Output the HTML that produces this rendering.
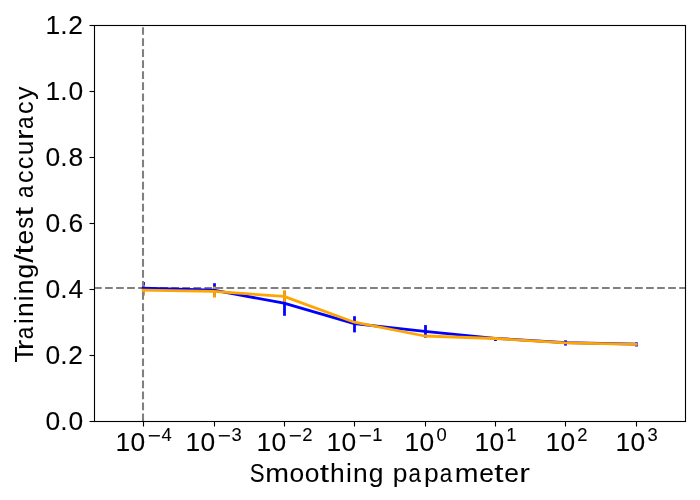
<!DOCTYPE html>
<html lang="en"><head><meta charset="utf-8"><title>Training/test accuracy vs smoothing parameter</title>
<style>html,body{margin:0;padding:0;background:#fff;overflow:hidden}svg{display:block;will-change:transform}text{font-family:"Liberation Sans",sans-serif;fill:#000}</style>
</head><body>
<svg width="700" height="500" viewBox="0 0 700 500">
<rect x="0" y="0" width="700" height="500" fill="#ffffff"/>
<g id="errorbars" fill="none" stroke-width="2.78" stroke-linecap="butt">
<g stroke="#0000ff"><line x1="143.5" y1="282.0" x2="143.5" y2="295.0"/><line x1="214.5" y1="283.2" x2="214.5" y2="296.8"/><line x1="284.5" y1="291.2" x2="284.5" y2="315.8"/><line x1="354.5" y1="316.2" x2="354.5" y2="332.4"/><line x1="425.5" y1="325.1" x2="425.5" y2="337.7"/><line x1="495.5" y1="337.4" x2="495.5" y2="341.0"/><line x1="565.5" y1="340.3" x2="565.5" y2="345.6"/><line x1="636.5" y1="342.4" x2="636.5" y2="346.5"/></g>
<g stroke="#ffa500"><line x1="143.5" y1="285.2" x2="143.5" y2="295.6"/><line x1="214.5" y1="286.6" x2="214.5" y2="297.6"/><line x1="284.5" y1="290.2" x2="284.5" y2="302.3"/><line x1="354.5" y1="321.2" x2="354.5" y2="323.2"/><line x1="425.5" y1="335.0" x2="425.5" y2="337.0"/><line x1="495.5" y1="337.5" x2="495.5" y2="339.5"/><line x1="565.5" y1="342.0" x2="565.5" y2="344.0"/><line x1="636.5" y1="343.3" x2="636.5" y2="345.3"/></g>
</g>
<g id="reflines" fill="none" stroke="#808080" stroke-width="2.08" stroke-dasharray="7.708 3.333">
<line x1="143" y1="421.3" x2="143" y2="25.3"/>
<line x1="94.02" y1="288" x2="685.02" y2="288"/>
</g>
<g id="series" fill="none" stroke-width="2.78" stroke-linecap="square" stroke-linejoin="round">
<polyline stroke="#0000ff" points="143.20,288.20 213.57,290.20 283.95,303.20 354.32,323.70 424.70,331.30 495.07,338.30 565.44,342.60 635.82,344.00"/>
<polyline stroke="#ffa500" points="143.20,290.20 213.57,291.40 283.95,296.40 354.32,322.20 424.70,336.00 495.07,338.50 565.44,342.90 635.82,344.30"/>
</g>
<g id="axes" fill="none" stroke="#000000" stroke-width="1.11">
<rect x="94.5" y="25.5" width="591" height="396"/>
<line x1="143.5" y1="421.5" x2="143.5" y2="426.5"/><line x1="214.5" y1="421.5" x2="214.5" y2="426.5"/><line x1="284.5" y1="421.5" x2="284.5" y2="426.5"/><line x1="354.5" y1="421.5" x2="354.5" y2="426.5"/><line x1="425.5" y1="421.5" x2="425.5" y2="426.5"/><line x1="495.5" y1="421.5" x2="495.5" y2="426.5"/><line x1="565.5" y1="421.5" x2="565.5" y2="426.5"/><line x1="636.5" y1="421.5" x2="636.5" y2="426.5"/>
<line x1="89.5" y1="25.5" x2="94.5" y2="25.5"/><line x1="89.5" y1="91.5" x2="94.5" y2="91.5"/><line x1="89.5" y1="157.5" x2="94.5" y2="157.5"/><line x1="89.5" y1="223.5" x2="94.5" y2="223.5"/><line x1="89.5" y1="289.5" x2="94.5" y2="289.5"/><line x1="89.5" y1="355.5" x2="94.5" y2="355.5"/><line x1="89.5" y1="421.5" x2="94.5" y2="421.5"/>
</g>
<defs><filter id="gs" x="0" y="0" width="700" height="500" filterUnits="userSpaceOnUse"><feOffset dx="0" dy="0"/></filter></defs>
<g id="labels" filter="url(#gs)">
<g id="yticklabels" font-size="26.40" stroke="#000" stroke-width="0.1">
<text x="45.49 60.14 68.22" y="34.00">1.2</text>
<text x="45.49 60.14 68.47" y="100.00">1.0</text>
<text x="45.59 60.14 68.54" y="166.00">0.8</text>
<text x="45.59 60.14 68.50" y="232.00">0.6</text>
<text x="45.59 60.14 68.52" y="298.00">0.4</text>
<text x="45.59 60.14 68.22" y="364.00">0.2</text>
<text x="45.59 60.14 68.47" y="430.00">0.0</text>
</g>
<g id="xticklabels" font-size="26.40" stroke="#000" stroke-width="0.08">
<text><tspan x="115.49 130.59" y="451.00">10</tspan><tspan x="147.77" y="441.80" font-size="18.40" textLength="13.16" lengthAdjust="spacingAndGlyphs">−</tspan><tspan x="161.43" y="441.20" font-size="18.40">4</tspan></text>
<text><tspan x="185.49 200.59" y="451.00">10</tspan><tspan x="217.77" y="441.80" font-size="18.40" textLength="13.16" lengthAdjust="spacingAndGlyphs">−</tspan><tspan x="231.48" y="441.20" font-size="18.40">3</tspan></text>
<text><tspan x="256.49 271.59" y="451.00">10</tspan><tspan x="288.77" y="441.80" font-size="18.40" textLength="13.16" lengthAdjust="spacingAndGlyphs">−</tspan><tspan x="302.20" y="441.20" font-size="18.40">2</tspan></text>
<text><tspan x="326.49 341.59" y="451.00">10</tspan><tspan x="358.77" y="441.80" font-size="18.40" textLength="13.16" lengthAdjust="spacingAndGlyphs">−</tspan><tspan x="372.32" y="441.20" font-size="18.40">1</tspan></text>
<text><tspan x="404.49 419.59" y="451.00">10</tspan><tspan x="436.40" y="441.20" font-size="18.40">0</tspan></text>
<text><tspan x="474.49 489.59" y="451.00">10</tspan><tspan x="506.32" y="441.20" font-size="18.40">1</tspan></text>
<text><tspan x="545.49 560.59" y="451.00">10</tspan><tspan x="577.20" y="441.20" font-size="18.40">2</tspan></text>
<text><tspan x="615.49 630.59" y="451.00">10</tspan><tspan x="647.48" y="441.20" font-size="18.40">3</tspan></text>
</g>
<text id="xlabel" stroke="#000" stroke-width="0.05" y="482.00" font-size="26.40"><tspan x="249.64" textLength="14.86" lengthAdjust="spacingAndGlyphs">S</tspan><tspan x="265.25" textLength="23.73" lengthAdjust="spacingAndGlyphs">m</tspan><tspan x="289.53 304.78">oo</tspan><tspan x="319.85" textLength="9.28" lengthAdjust="spacingAndGlyphs">t</tspan><tspan x="330.10 345.95 353.01 368.72 383.40 392.84">hing p</tspan><tspan x="408.53" textLength="12.50" lengthAdjust="spacingAndGlyphs">a</tspan><tspan x="423.97">p</tspan><tspan x="439.65" textLength="12.50" lengthAdjust="spacingAndGlyphs">a</tspan><tspan x="454.75" textLength="23.73" lengthAdjust="spacingAndGlyphs">m</tspan><tspan x="479.14">e</tspan><tspan x="494.23" textLength="9.28" lengthAdjust="spacingAndGlyphs">t</tspan><tspan x="504.26">e</tspan><tspan x="519.37" textLength="10.67" lengthAdjust="spacingAndGlyphs">r</tspan></text>
<text id="ylabel" transform="translate(33.00 420) rotate(-90)" y="0" font-size="26.40"><tspan x="57.41">T</tspan><tspan x="69.86" textLength="10.67" lengthAdjust="spacingAndGlyphs">r</tspan><tspan x="80.65" textLength="12.50" lengthAdjust="spacingAndGlyphs">a</tspan><tspan x="95.95 103.01 118.82 125.89 141.59">ining</tspan><tspan x="157.31" textLength="8.42" lengthAdjust="spacingAndGlyphs">/</tspan><tspan x="165.46" textLength="9.28" lengthAdjust="spacingAndGlyphs">t</tspan><tspan x="175.51">e</tspan><tspan x="191.21" textLength="11.98" lengthAdjust="spacingAndGlyphs">s</tspan><tspan x="203.72" textLength="9.28" lengthAdjust="spacingAndGlyphs">t</tspan><tspan x="211.06"> </tspan><tspan x="221.91" textLength="12.50" lengthAdjust="spacingAndGlyphs">a</tspan><tspan x="236.95" textLength="12.54" lengthAdjust="spacingAndGlyphs">c</tspan><tspan x="250.70" textLength="12.54" lengthAdjust="spacingAndGlyphs">c</tspan><tspan x="264.67">u</tspan><tspan x="280.11" textLength="10.67" lengthAdjust="spacingAndGlyphs">r</tspan><tspan x="290.91" textLength="12.50" lengthAdjust="spacingAndGlyphs">a</tspan><tspan x="305.95" textLength="12.54" lengthAdjust="spacingAndGlyphs">c</tspan><tspan x="320.19">y</tspan></text>
</g>
</svg>
</body></html>
